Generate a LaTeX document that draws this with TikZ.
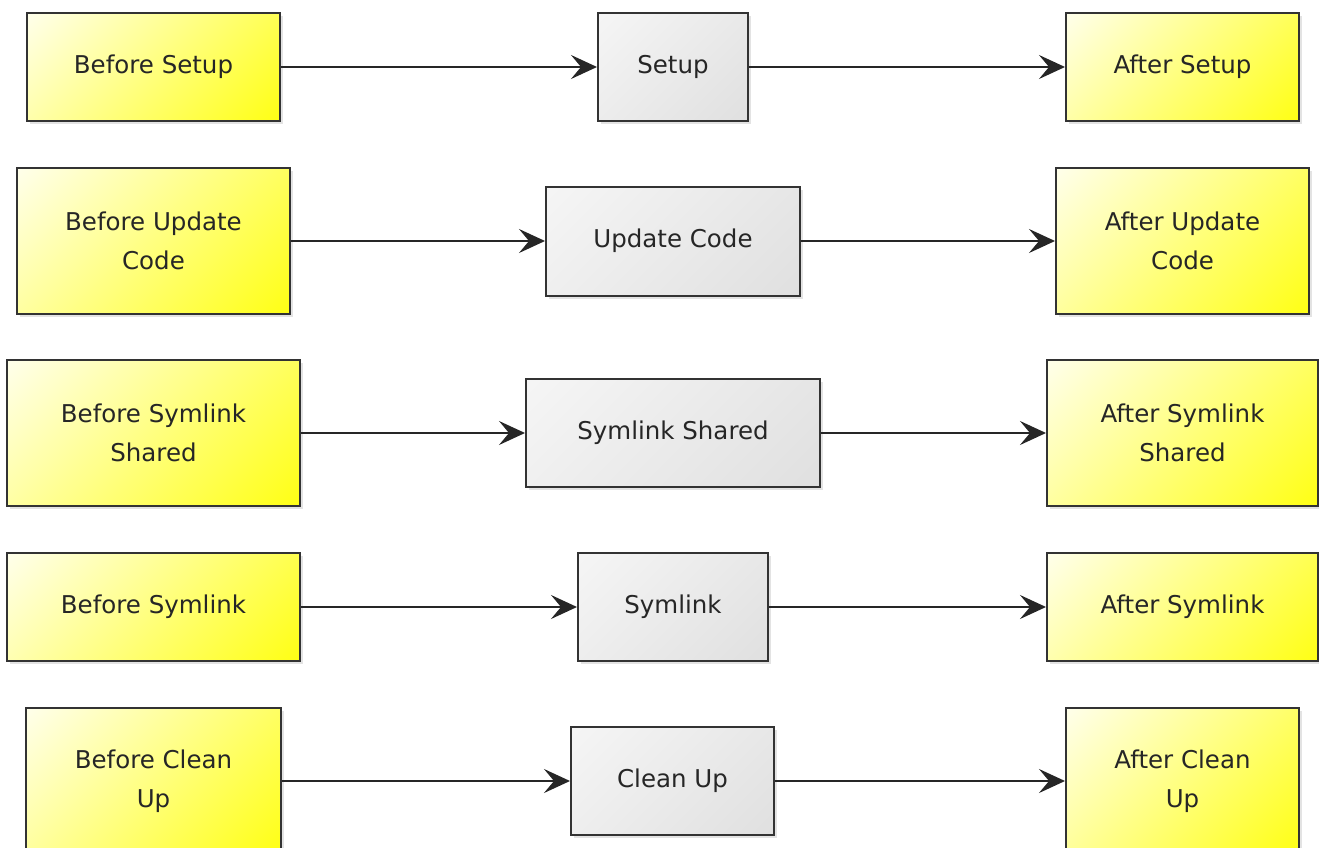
\documentclass[tikz,border=0pt]{standalone}
\usepackage{fontspec}
\setmainfont{DejaVu Sans}
\usetikzlibrary{arrows.meta,shadows}
\pgfdeclareverticalshading{hookshade}{100bp}{color(0bp)=(yellow); color(8bp)=(yellow); color(50bp)=(yellow!50); color(92bp)=(white); color(100bp)=(white)}
\pgfdeclareverticalshading{taskshade}{100bp}{color(0bp)=(black!13); color(8bp)=(black!13); color(92bp)=(black!3); color(100bp)=(black!3)}
\tikzset{
  box/.style={draw=black!80, line width=2pt, inner sep=0pt, align=center,
    font=\fontsize{24.5}{39}\selectfont, text=black!85,
    drop shadow={opacity=0.22, shadow xshift=3pt, shadow yshift=-3pt}},
  hook/.style={box, shade, shading=hookshade, shading angle=45},
  task/.style={box, shade, shading=taskshade, shading angle=45},
  arr/.style={line width=2pt, draw=black!85,
    -{Stealth[length=26pt,width=24pt,inset=10pt]}},
}
\begin{document}
\begin{tikzpicture}[x=1pt,y=-1pt]
\useasboundingbox (0,0) rectangle (1319,848);
% row 1
\node[hook, minimum width=253pt, minimum height=108pt] (bs) at (153.5,67) {Before Setup};
\node[task, minimum width=150pt, minimum height=108pt] (s) at (673,67) {Setup};
\node[hook, minimum width=233pt, minimum height=108pt] (as) at (1182.5,67) {After Setup};
% row 2
\node[hook, minimum width=273pt, minimum height=146pt] (buc) at (153.5,241) {Before Update\\Code};
\node[task, minimum width=254pt, minimum height=109pt] (uc) at (673,241) {Update Code};
\node[hook, minimum width=253pt, minimum height=146pt] (auc) at (1182.5,241) {After Update\\Code};
% row 3
\node[hook, minimum width=293pt, minimum height=146pt] (bss) at (153.5,433) {Before Symlink\\Shared};
\node[task, minimum width=294pt, minimum height=108pt] (ss) at (673,433) {Symlink Shared};
\node[hook, minimum width=271pt, minimum height=146pt] (ass) at (1182.5,433) {After Symlink\\Shared};
% row 4
\node[hook, minimum width=293pt, minimum height=108pt] (bsy) at (153.5,607) {Before Symlink};
\node[task, minimum width=190pt, minimum height=108pt] (sy) at (673,607) {Symlink};
\node[hook, minimum width=271pt, minimum height=108pt] (asy) at (1182.5,607) {After Symlink};
% row 5
\node[hook, minimum width=255pt, minimum height=146pt] (bcu) at (153.5,781) {Before Clean\\Up};
\node[task, minimum width=203pt, minimum height=108pt] (cu) at (672.5,781) {Clean Up};
\node[hook, minimum width=233pt, minimum height=146pt] (acu) at (1182.5,781) {After Clean\\Up};
% arrows
\draw[arr] (bs) -- (s);
\draw[arr] (s) -- (as);
\draw[arr] (buc) -- (uc);
\draw[arr] (uc) -- (auc);
\draw[arr] (bss) -- (ss);
\draw[arr] (ss) -- (ass);
\draw[arr] (bsy) -- (sy);
\draw[arr] (sy) -- (asy);
\draw[arr] (bcu) -- (cu);
\draw[arr] (cu) -- (acu);
\end{tikzpicture}
\end{document}
